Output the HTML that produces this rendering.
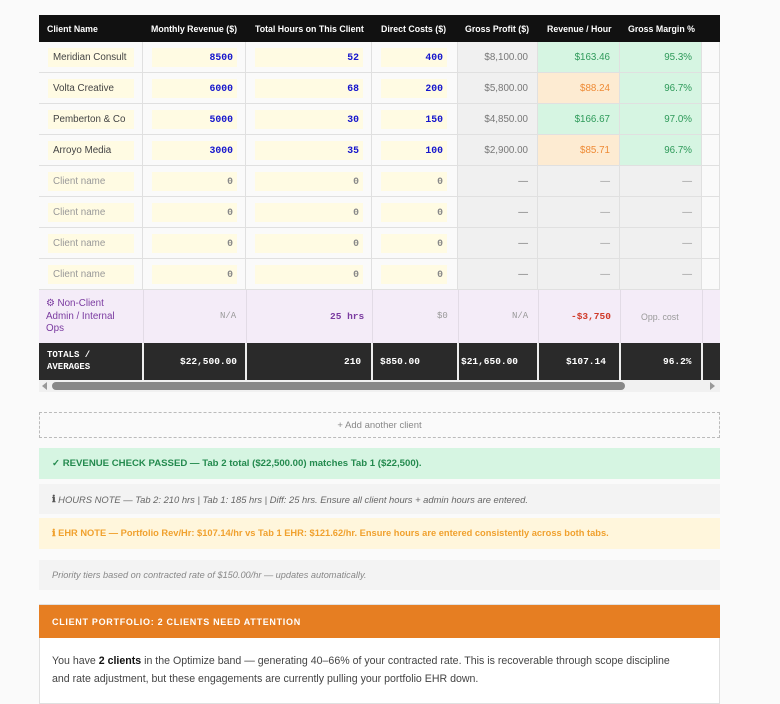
<!DOCTYPE html>
<html><head><meta charset="utf-8"><style>
*{margin:0;padding:0;box-sizing:border-box}
body{width:780px;height:695px;background:#fafafa;font-family:"Liberation Sans",sans-serif;position:relative;overflow:hidden}
.a{position:absolute}
.hd{background:#111;color:#fff;font-weight:bold;font-size:8.8px;height:27px;top:15px}
.hd div{position:absolute;top:9px}
.cell{position:absolute;height:31px;border-right:1px solid #e0e0e0;border-bottom:1px solid #e0e0e0;font-size:9.8px;display:flex;align-items:center;justify-content:flex-end;padding-right:10px}
.inp{position:absolute;background:#fffbe3;height:19px;font-size:9.8px;display:flex;align-items:center;}
.mono{font-family:"Liberation Mono",monospace;font-weight:bold;color:#1515cc}
.box{position:absolute;left:39px;width:681px;font-size:9px;padding-left:13px;display:flex;align-items:center}
</style></head><body>
<div class="a hd" style="left:39px;width:681px">
<div style="left:8px">Client Name</div>
<div style="left:112px">Monthly Revenue ($)</div>
<div style="left:216px">Total Hours on This Client</div>
<div style="left:342px">Direct Costs ($)</div>
<div style="left:426px">Gross Profit ($)</div>
<div style="left:508px">Revenue / Hour</div>
<div style="left:589px">Gross Margin %</div>
</div>
<div id="rows"></div>
<script>
var d=[["Meridian Consult","8500","52","400","$8,100.00","$163.46","95.3%",1],["Volta Creative","6000","68","200","$5,800.00","$88.24","96.7%",0],["Pemberton & Co","5000","30","150","$4,850.00","$166.67","97.0%",1],["Arroyo Media","3000","35","100","$2,900.00","$85.71","96.7%",0]];
for(var i=0;i<4;i++)d.push(["Client name","0","0","0","—","—","—",2]);
var h="",xs=[39,143,246,372,458,538,620,702,720];
d.forEach(function(r,i){var y=42+i*31;var e=r[7]==2;
for(var c=0;c<8;c++){var bg="#fafafa";if(c==4)bg="#f0f0f0";if(c==5)bg=e?"#f0f0f0":(r[7]?"#d6f5e2":"#fdebd2");if(c==6)bg=e?"#f0f0f0":"#d6f5e2";
h+='<div class="cell" style="left:'+xs[c]+'px;top:'+y+'px;width:'+(xs[c+1]-xs[c])+'px;background:'+bg+'"></div>';}
h+='<div class="inp" style="left:48px;top:'+(y+6)+'px;width:86px;padding-left:5px;overflow:hidden;white-space:nowrap;color:'+(e?"#999":"#444")+'">'+r[0]+'</div>';
var iw=[[152,237],[255,363],[381,447]];
for(var k=0;k<3;k++)h+='<div class="inp mono" style="left:'+iw[k][0]+'px;top:'+(y+6)+'px;width:'+(iw[k][1]-iw[k][0])+'px;justify-content:flex-end;padding-right:4px;'+(e?'color:#888':'')+'">'+r[k+1]+'</div>';
var cols=["#777",e?"#999":(r[7]?"#2e9a5a":"#ee8a35"),e?"#999":"#2e9a5a"];
for(var k=0;k<3;k++)h+='<div class="cell" style="left:'+xs[4+k]+'px;top:'+y+'px;width:'+(xs[5+k]-xs[4+k])+'px;border:none;color:'+cols[k]+'">'+r[4+k]+'</div>';
});
document.getElementById("rows").innerHTML=h;
</script>
<div class="a" style="left:39px;top:290px;width:681px;height:53px;background:#f4ecf8"></div>
<div class="a" style="left:143px;top:290px;width:1px;height:53px;background:#e2dbe6"></div>
<div class="a" style="left:246px;top:290px;width:1px;height:53px;background:#e2dbe6"></div>
<div class="a" style="left:372px;top:290px;width:1px;height:53px;background:#e2dbe6"></div>
<div class="a" style="left:458px;top:290px;width:1px;height:53px;background:#e2dbe6"></div>
<div class="a" style="left:538px;top:290px;width:1px;height:53px;background:#e2dbe6"></div>
<div class="a" style="left:620px;top:290px;width:1px;height:53px;background:#e2dbe6"></div>
<div class="a" style="left:702px;top:290px;width:1px;height:53px;background:#e2dbe6"></div>
<div class="a" style="left:46px;top:298px;font-size:9.8px;color:#7a3aa0;line-height:12.5px">⚙ Non-Client<br>Admin / Internal<br>Ops</div>
<div class="a" style="left:220px;top:311px;font-size:9px;color:#999;font-family:'Liberation Mono',monospace">N/A</div>
<div class="a mono" style="left:330px;top:311px;font-size:9.5px;color:#7a3aa0">25 hrs</div>
<div class="a" style="left:437px;top:311px;font-size:9px;color:#999;font-family:'Liberation Mono',monospace">$0</div>
<div class="a" style="left:512px;top:311px;font-size:9px;color:#999;font-family:'Liberation Mono',monospace">N/A</div>
<div class="a mono" style="left:571px;top:311px;font-size:9.5px;color:#d03a2a">-$3,750</div>
<div class="a" style="left:641px;top:312px;font-size:8.8px;color:#999">Opp. cost</div>
<div class="a" style="left:39px;top:343px;width:681px;height:37px;background:#2a2a2a"></div>
<div class="a" style="left:142px;top:343px;width:2px;height:37px;background:#eee"></div>
<div class="a" style="left:245px;top:343px;width:2px;height:37px;background:#eee"></div>
<div class="a" style="left:371px;top:343px;width:2px;height:37px;background:#eee"></div>
<div class="a" style="left:457px;top:343px;width:2px;height:37px;background:#eee"></div>
<div class="a" style="left:537px;top:343px;width:2px;height:37px;background:#eee"></div>
<div class="a" style="left:619px;top:343px;width:2px;height:37px;background:#eee"></div>
<div class="a" style="left:701px;top:343px;width:2px;height:37px;background:#eee"></div>
<div class="a mono" style="left:47px;top:349px;font-size:9px;color:#fff;line-height:12px">TOTALS /<br>AVERAGES</div>
<div class="a mono" style="left:180px;top:356px;font-size:9.5px;color:#fff">$22,500.00</div>
<div class="a mono" style="left:344px;top:356px;font-size:9.5px;color:#fff">210</div>
<div class="a mono" style="left:380px;top:356px;font-size:9.5px;color:#fff">$850.00</div>
<div class="a mono" style="left:461px;top:356px;font-size:9.5px;color:#fff">$21,650.00</div>
<div class="a mono" style="left:566px;top:356px;font-size:9.5px;color:#fff">$107.14</div>
<div class="a mono" style="left:663px;top:356px;font-size:9.5px;color:#fff">96.2%</div>
<div class="a" style="left:39px;top:380px;width:681px;height:12px;background:#f1f1f1"></div>
<div class="a" style="left:52px;top:382px;width:573px;height:8px;background:#888;border-radius:4px"></div>
<div class="a" style="left:42px;top:382px;width:0;height:0;border-top:4px solid transparent;border-bottom:4px solid transparent;border-right:5px solid #999"></div>
<div class="a" style="left:710px;top:382px;width:0;height:0;border-top:4px solid transparent;border-bottom:4px solid transparent;border-left:5px solid #999"></div>
<div class="box" style="top:412px;height:26px;border:1px dashed #bbb;justify-content:center;padding:0;color:#888;font-size:9.5px">+ Add another client</div>
<div class="box" style="top:448px;height:31px;background:#d6f5e2;color:#238a4e;font-size:9.6px;font-weight:bold">✓ REVENUE CHECK PASSED — Tab 2 total ($22,500.00) matches Tab 1 ($22,500).</div>
<div class="box" style="top:484px;height:30px;background:#f3f3f3;color:#666;font-style:italic;font-size:9.4px"><b style="font-style:normal;color:#555">ℹ</b>&nbsp;HOURS NOTE — Tab 2: 210 hrs | Tab 1: 185 hrs | Diff: 25 hrs. Ensure all client hours + admin hours are entered.</div>
<div class="box" style="top:518px;height:31px;background:#fff6dc;color:#f0a12e;font-size:9.3px;font-weight:bold">ℹ EHR NOTE — Portfolio Rev/Hr: $107.14/hr vs Tab 1 EHR: $121.62/hr. Ensure hours are entered consistently across both tabs.</div>
<div class="box" style="top:560px;height:30px;background:#f3f3f3;color:#888;font-style:italic;font-size:9.2px">Priority tiers based on contracted rate of $150.00/hr — updates automatically.</div>
<div class="a" style="left:39px;top:604px;width:681px;height:100px;background:#fff;border:1px solid #e0e0e0"></div>
<div class="box" style="top:605px;height:33px;background:#e67e22;color:#fff;font-weight:bold;font-size:9px;letter-spacing:0.7px">CLIENT PORTFOLIO: 2 CLIENTS NEED ATTENTION</div>
<div class="a" style="left:52px;top:652px;width:642px;font-size:10.6px;color:#444;line-height:18px">You have <b style="color:#111">2 clients</b> in the Optimize band — generating 40–66% of your contracted rate. This is recoverable through scope discipline<br>and rate adjustment, but these engagements are currently pulling your portfolio EHR down.</div>
</body></html>
